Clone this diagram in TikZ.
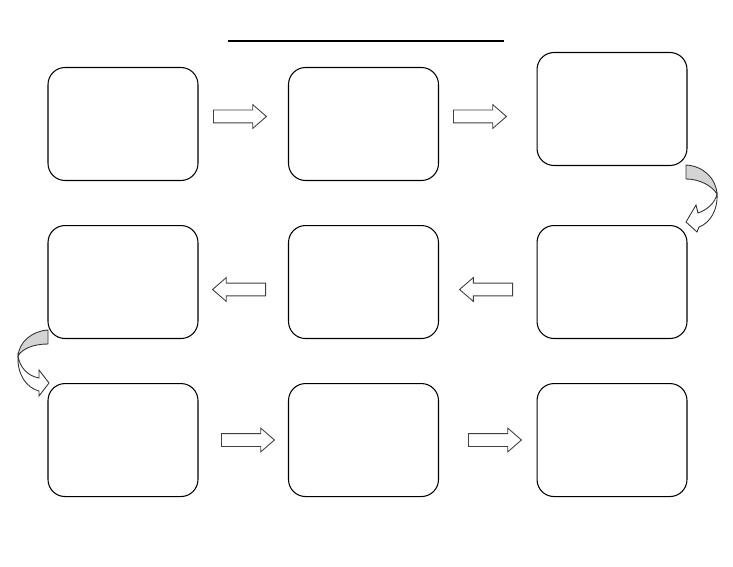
\documentclass[tikz,border=0pt]{standalone}
\usetikzlibrary{positioning, shapes.arrows}

\begin{document}
\begin{tikzpicture}[x=0.02cm, y=-0.02cm, node distance=1.8cm,
    box/.style={draw=black, line width=0.6pt, rounded corners=0.34cm,
                minimum width=3cm, minimum height=2.26cm, inner sep=0pt},
    blockarrow/.style={single arrow, draw=black!75, line width=0.5pt, fill=white,
                minimum height=1.06cm, minimum width=1pt, inner xsep=0pt, inner ysep=0.12cm,
                single arrow head extend=0.11cm, single arrow tip angle=82, anchor=tail},
    curl/.style={draw=black!80, line width=0.5pt}]
    \useasboundingbox (0,0) rectangle (733,567);

    % heading line
    \coordinate (hl) at (228,41);
    \coordinate (hr) at (504,41);
    \draw[line width=1.1pt] (hl) -- (hr);

    % row 1
    \node(r1a) [box] at (123,124) {};
    \node(r1b) [box, right=1.79cm of r1a] {};
    \node(r1c) [box, right=1.95cm of r1b, yshift=0.3cm] {};

    % row 2
    \node(r2a) [box, below=0.88cm of r1a] {};
    \node(r2b) [box, right=1.79cm of r2a] {};
    \node(r2c) [box, right=1.95cm of r2b] {};

    % row 3
    \node(r3a) [box, below=0.88cm of r2a] {};
    \node(r3b) [box, right=1.79cm of r3a] {};
    \node(r3c) [box, right=1.95cm of r3b] {};

    %%%%% block arrows %%%%%
    \node(p1ab) [blockarrow] at (213,116.5) {};
    \node(p1bc) [blockarrow] at (453,116.5) {};

    \node(p2cb) [blockarrow, shape border rotate=180] at (513,289.5) {};
    \node(p2ba) [blockarrow, shape border rotate=180] at (266,289.5) {};

    \node(p3ab) [blockarrow] at (221,440) {};
    \node(p3bc) [blockarrow] at (468,440) {};

    %%%%% curved arrows %%%%%
    % right side, row 1 to row 2
    \draw[curl, fill=black!17] (686,165) .. controls (703,166) and (716,178) .. (717,194)
        .. controls (712,186) and (700,179) .. (686,179) -- cycle;
    \draw[curl, fill=white] (717,194) .. controls (718,210) and (710,223) .. (699,227)
        -- (697,232) -- (686,222) -- (696,205) -- (698,213)
        .. controls (707,210) and (715,203) .. (717,194) -- cycle;

    % left side, row 2 to row 3
    \draw[curl, fill=black!17] (48,330) .. controls (32,331) and (19,342) .. (18,356)
        .. controls (22,349) and (33,344) .. (48,344) -- cycle;
    \draw[curl, fill=white] (18,356) .. controls (17,375) and (27,388) .. (39,391)
        -- (39,396) -- (49,383) -- (39,370) -- (39,378)
        .. controls (28,376) and (20,368) .. (18,356) -- cycle;

  \end{tikzpicture}
\end{document}
